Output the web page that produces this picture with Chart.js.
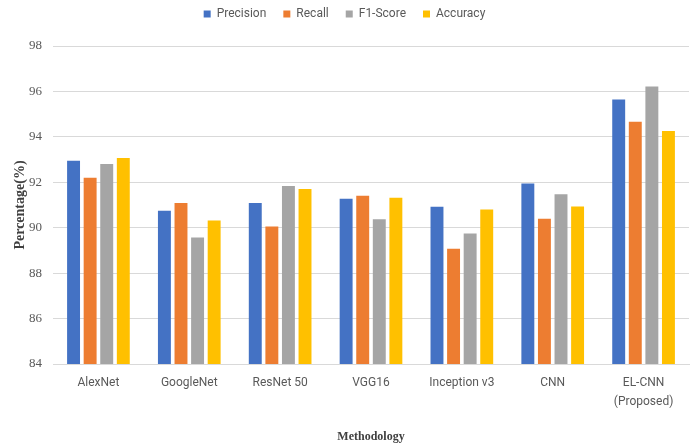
<!DOCTYPE html>
<html>
<head>
<meta charset="utf-8">
<script src="https://cdn.jsdelivr.net/npm/chart.js@4/dist/chart.umd.min.js"></script>
<style>
  html, body { margin: 0; padding: 0; background: #ffffff; }
  #wrap { width: 696px; height: 446px; position: relative; }
</style>
</head>
<body>
<div id="wrap"><canvas id="chart" width="696" height="446"></canvas></div>
<script>
// Model names along the x axis
const methods = ['AlexNet', 'GoogleNet', 'ResNet 50', 'VGG16', 'Inception v3', 'CNN', ['EL-CNN', '(Proposed)']];

// Metric scores (%) per model
const precision = [92.95, 90.75, 91.09, 91.28, 90.92, 91.95, 95.65];
const recall    = [92.20, 91.09, 90.05, 91.41, 89.07, 90.40, 94.66];
const f1Score   = [92.80, 89.57, 91.84, 90.37, 89.75, 91.47, 96.22];
const accuracy  = [93.07, 90.32, 91.70, 91.32, 90.80, 90.93, 94.26];

// Y axis range and step
const yMin = 84;
const yMax = 98;
const yStep = 2;

const seriesNames = ['Precision', 'Recall', 'F1-Score', 'Accuracy'];
const seriesColors = ['#4472C4', '#ED7D31', '#A5A5A5', '#FFC000'];
const seriesData = [precision, recall, f1Score, accuracy];

const datasets = seriesNames.map((name, i) => ({
  label: name,
  data: seriesData[i],
  backgroundColor: seriesColors[i],
  borderWidth: 0,
  categoryPercentage: 0.73,
  barPercentage: 0.78
}));

const chart = new Chart(document.getElementById('chart'), {
  type: 'bar',
  data: { labels: methods, datasets: datasets },
  options: {
    responsive: false,
    animation: false,
    layout: { padding: { top: -9, right: 7, bottom: 0, left: 0 } },
    plugins: {
      tooltip: { enabled: false },
      legend: {
        position: 'top',
        labels: {
          boxWidth: 7,
          boxHeight: 7,
          padding: 17,
          color: '#595959',
          font: { family: 'Roboto', size: 12 }
        }
      }
    },
    scales: {
      x: {
        afterFit(scale) { scale.height = 82; },
        grid: { display: false, drawTicks: false },
        border: { color: '#d9d9d9', width: 1 },
        ticks: {
          color: '#595959',
          padding: 9,
          maxRotation: 0,
          autoSkip: false,
          font: { family: 'Roboto', size: 12, lineHeight: 1.6 }
        },
        title: {
          display: true,
          text: 'Methodology',
          color: '#404040',
          padding: { top: 0, bottom: 2 },
          font: { family: 'Liberation Serif', size: 12, weight: 'bold' }
        }
      },
      y: {
        min: yMin,
        max: yMax,
        afterFit(scale) { scale.width = 53; },
        grid: { color: '#d9d9d9', lineWidth: 1, drawTicks: false },
        border: { display: false },
        ticks: {
          stepSize: yStep,
          color: '#595959',
          padding: 11,
          font: { family: 'Liberation Serif', size: 13 }
        },
        title: {
          display: true,
          text: 'Percentage(%)',
          color: '#404040',
          padding: { top: 12, bottom: 0 },
          font: { family: 'Liberation Serif', size: 14, weight: 'bold' }
        }
      }
    }
  }
});

// Leave a fixed gap between the legend row and the plot area
const baseFit = chart.legend.fit;
chart.legend.fit = function () {
  baseFit.call(this);
  this.height += 16;
};
chart.update();
</script>
</body>
</html>
